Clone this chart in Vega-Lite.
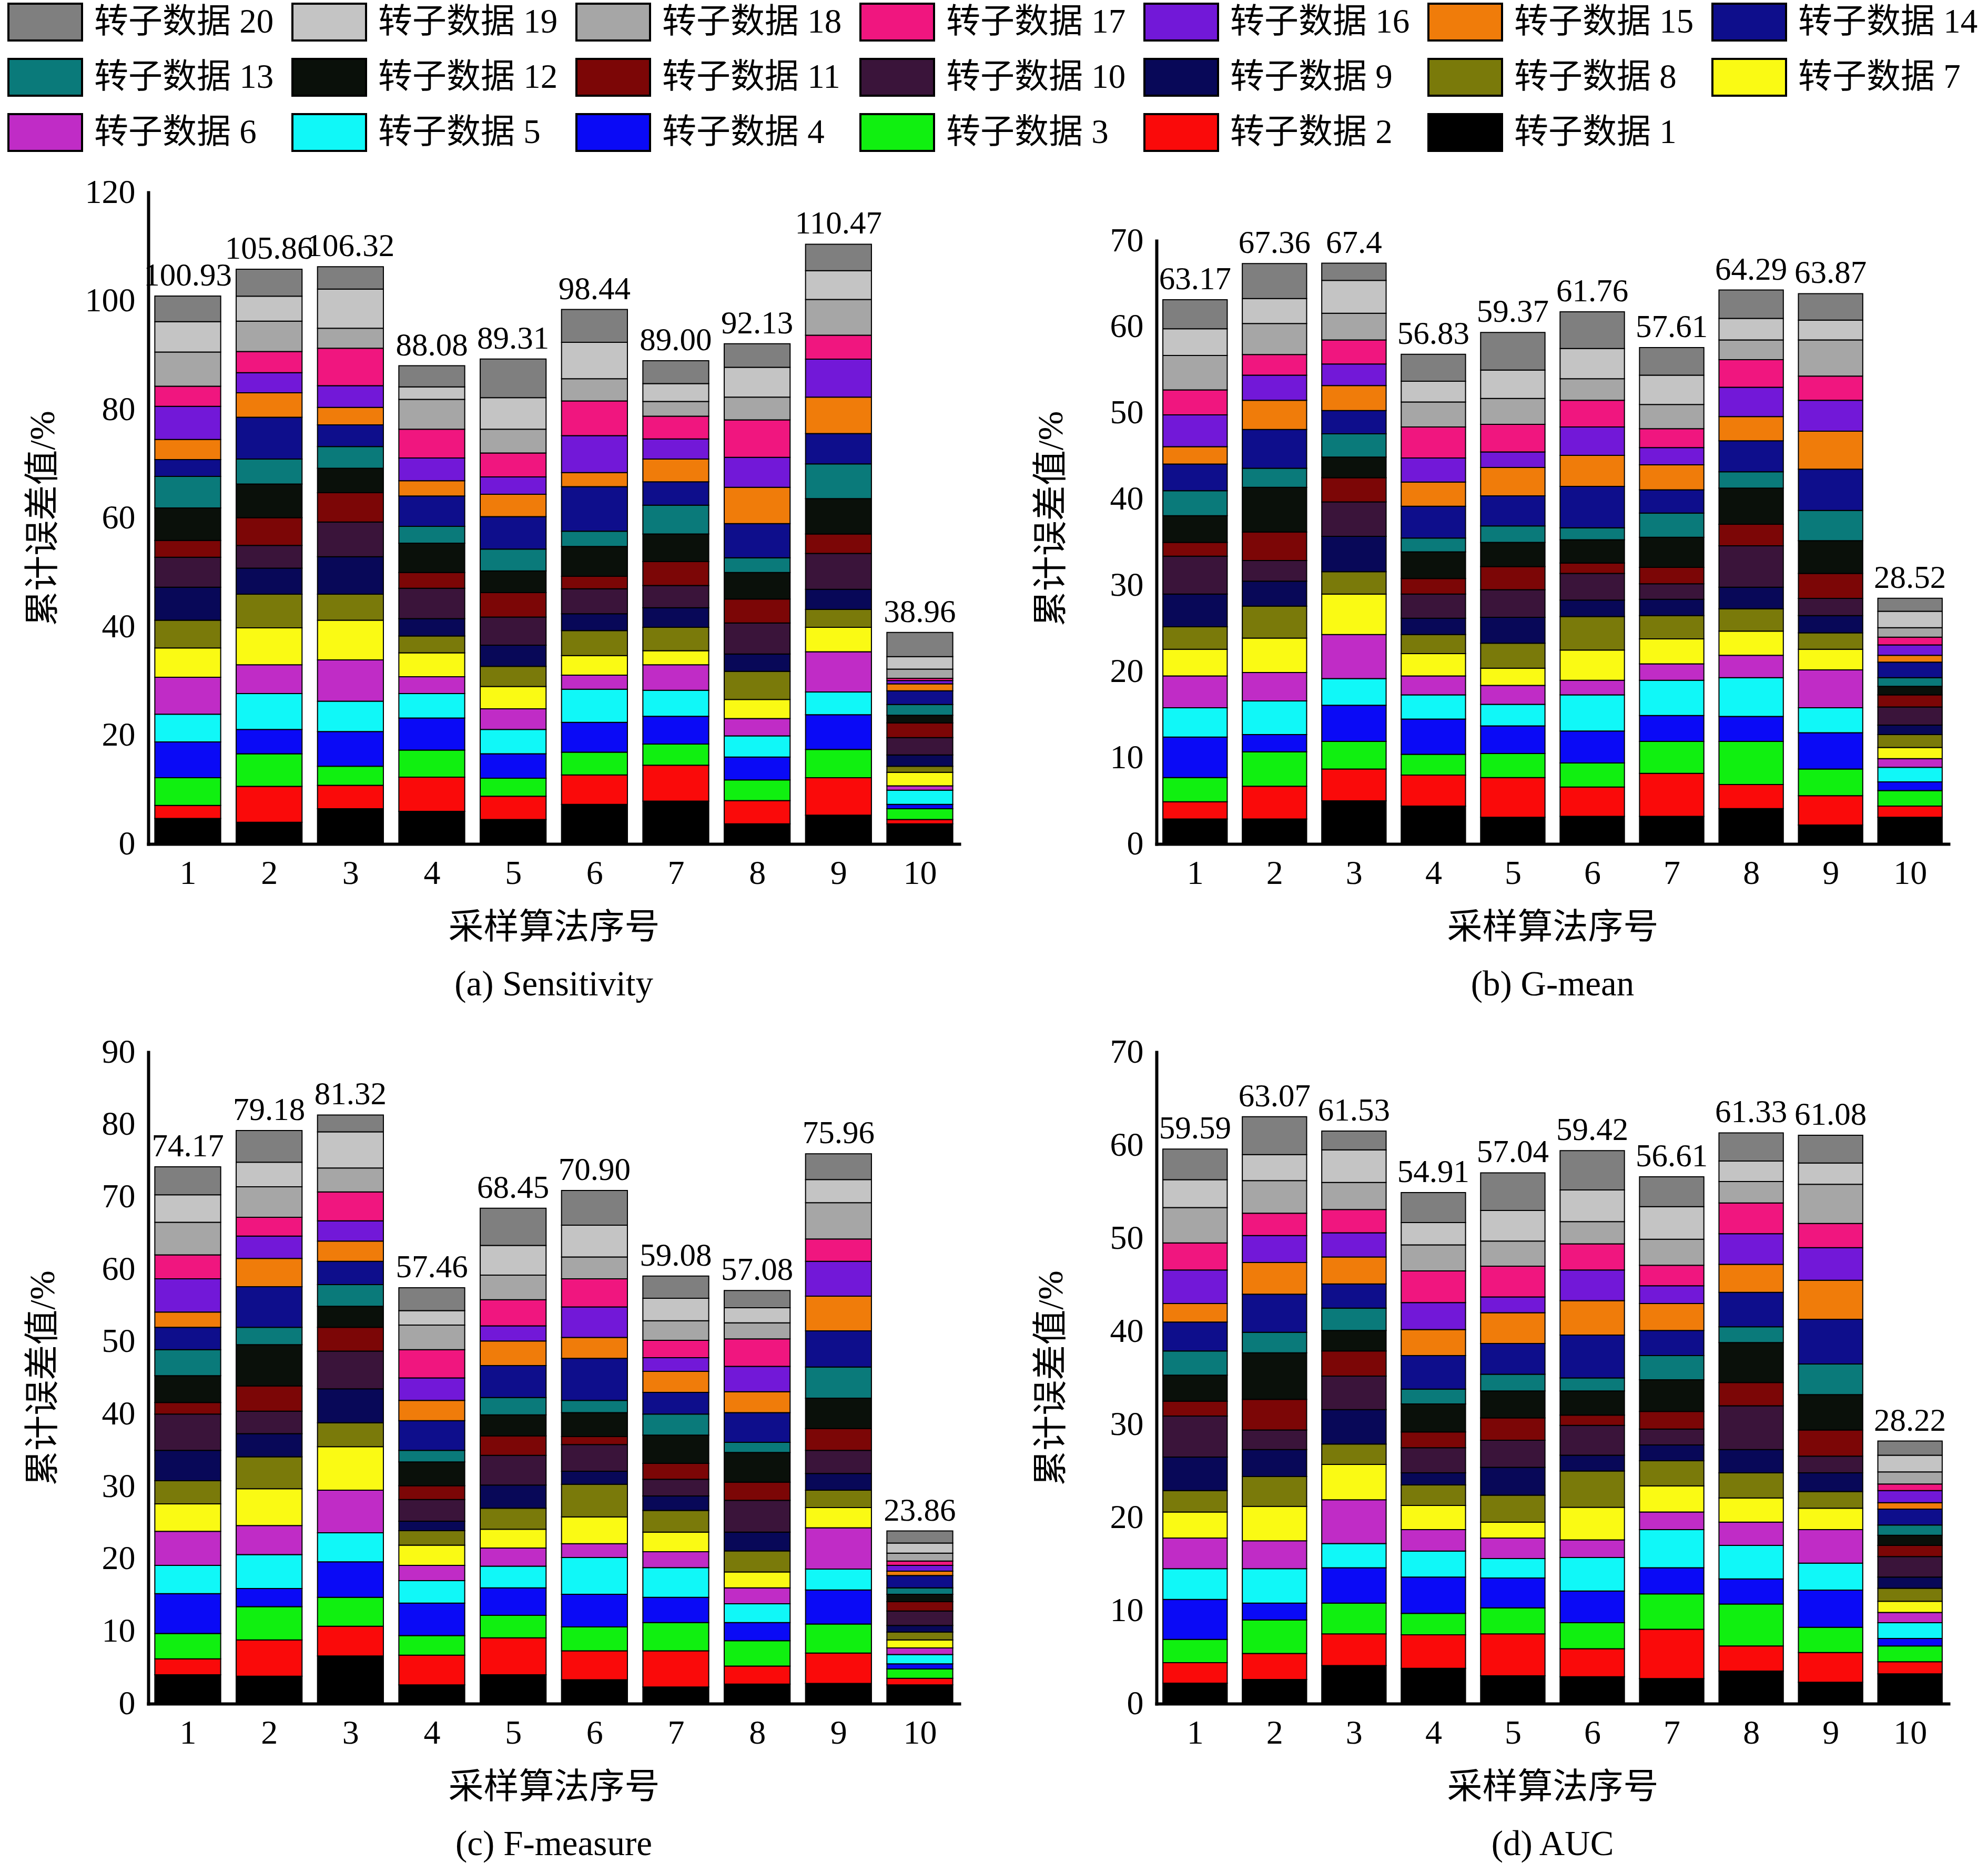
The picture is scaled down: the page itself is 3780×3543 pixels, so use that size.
{
"$schema": "https://vega.github.io/schema/vega-lite/v6.json",
"background": "white",
"padding": {"left": 48, "top": 5, "right": 5, "bottom": 5},
"datasets": {
"a": [
{"g":1,"s":1,"v":4.7},{"g":1,"s":2,"v":2.4},{"g":1,"s":3,"v":5.1},{"g":1,"s":4,"v":6.6},{"g":1,"s":5,"v":5.1},{"g":1,"s":6,"v":6.8},{"g":1,"s":7,"v":5.4},{"g":1,"s":8,"v":5.1},{"g":1,"s":9,"v":6.1},{"g":1,"s":10,"v":5.5},{"g":1,"s":11,"v":3.1},{"g":1,"s":12,"v":6.0},{"g":1,"s":13,"v":5.8},{"g":1,"s":14,"v":3.1},{"g":1,"s":15,"v":3.7},{"g":1,"s":16,"v":6.1},{"g":1,"s":17,"v":3.7},{"g":1,"s":18,"v":6.3},{"g":1,"s":19,"v":5.6},{"g":1,"s":20,"v":4.73},
{"g":2,"s":1,"v":4.0},{"g":2,"s":2,"v":6.6},{"g":2,"s":3,"v":6.0},{"g":2,"s":4,"v":4.5},{"g":2,"s":5,"v":6.6},{"g":2,"s":6,"v":5.3},{"g":2,"s":7,"v":6.8},{"g":2,"s":8,"v":6.2},{"g":2,"s":9,"v":4.8},{"g":2,"s":10,"v":4.2},{"g":2,"s":11,"v":5.1},{"g":2,"s":12,"v":6.2},{"g":2,"s":13,"v":4.6},{"g":2,"s":14,"v":7.7},{"g":2,"s":15,"v":4.5},{"g":2,"s":16,"v":3.7},{"g":2,"s":17,"v":3.9},{"g":2,"s":18,"v":5.6},{"g":2,"s":19,"v":4.6},{"g":2,"s":20,"v":4.96},
{"g":3,"s":1,"v":6.5},{"g":3,"s":2,"v":4.3},{"g":3,"s":3,"v":3.5},{"g":3,"s":4,"v":6.4},{"g":3,"s":5,"v":5.6},{"g":3,"s":6,"v":7.6},{"g":3,"s":7,"v":7.3},{"g":3,"s":8,"v":4.8},{"g":3,"s":9,"v":6.9},{"g":3,"s":10,"v":6.4},{"g":3,"s":11,"v":5.4},{"g":3,"s":12,"v":4.5},{"g":3,"s":13,"v":4.0},{"g":3,"s":14,"v":4.0},{"g":3,"s":15,"v":3.2},{"g":3,"s":16,"v":4.0},{"g":3,"s":17,"v":6.9},{"g":3,"s":18,"v":3.7},{"g":3,"s":19,"v":7.2},{"g":3,"s":20,"v":4.12},
{"g":4,"s":1,"v":6.0},{"g":4,"s":2,"v":6.3},{"g":4,"s":3,"v":5.0},{"g":4,"s":4,"v":5.9},{"g":4,"s":5,"v":4.5},{"g":4,"s":6,"v":3.1},{"g":4,"s":7,"v":4.4},{"g":4,"s":8,"v":3.1},{"g":4,"s":9,"v":3.2},{"g":4,"s":10,"v":5.6},{"g":4,"s":11,"v":2.9},{"g":4,"s":12,"v":5.4},{"g":4,"s":13,"v":3.1},{"g":4,"s":14,"v":5.6},{"g":4,"s":15,"v":2.8},{"g":4,"s":16,"v":4.2},{"g":4,"s":17,"v":5.3},{"g":4,"s":18,"v":5.5},{"g":4,"s":19,"v":2.3},{"g":4,"s":20,"v":3.88},
{"g":5,"s":1,"v":4.5},{"g":5,"s":2,"v":4.3},{"g":5,"s":3,"v":3.3},{"g":5,"s":4,"v":4.5},{"g":5,"s":5,"v":4.5},{"g":5,"s":6,"v":3.8},{"g":5,"s":7,"v":4.1},{"g":5,"s":8,"v":3.7},{"g":5,"s":9,"v":3.9},{"g":5,"s":10,"v":5.2},{"g":5,"s":11,"v":4.5},{"g":5,"s":12,"v":4.0},{"g":5,"s":13,"v":4.0},{"g":5,"s":14,"v":6.0},{"g":5,"s":15,"v":4.1},{"g":5,"s":16,"v":3.2},{"g":5,"s":17,"v":4.4},{"g":5,"s":18,"v":4.4},{"g":5,"s":19,"v":5.8},{"g":5,"s":20,"v":7.11},
{"g":6,"s":1,"v":7.3},{"g":6,"s":2,"v":5.4},{"g":6,"s":3,"v":4.2},{"g":6,"s":4,"v":5.5},{"g":6,"s":5,"v":6.1},{"g":6,"s":6,"v":2.6},{"g":6,"s":7,"v":3.6},{"g":6,"s":8,"v":4.6},{"g":6,"s":9,"v":3.1},{"g":6,"s":10,"v":4.6},{"g":6,"s":11,"v":2.3},{"g":6,"s":12,"v":5.5},{"g":6,"s":13,"v":2.8},{"g":6,"s":14,"v":8.2},{"g":6,"s":15,"v":2.6},{"g":6,"s":16,"v":6.8},{"g":6,"s":17,"v":6.4},{"g":6,"s":18,"v":4.1},{"g":6,"s":19,"v":6.7},{"g":6,"s":20,"v":6.04},
{"g":7,"s":1,"v":7.9},{"g":7,"s":2,"v":6.6},{"g":7,"s":3,"v":3.9},{"g":7,"s":4,"v":5.1},{"g":7,"s":5,"v":4.8},{"g":7,"s":6,"v":4.7},{"g":7,"s":7,"v":2.6},{"g":7,"s":8,"v":4.3},{"g":7,"s":9,"v":3.6},{"g":7,"s":10,"v":4.1},{"g":7,"s":11,"v":4.4},{"g":7,"s":12,"v":5.1},{"g":7,"s":13,"v":5.3},{"g":7,"s":14,"v":4.3},{"g":7,"s":15,"v":4.2},{"g":7,"s":16,"v":3.7},{"g":7,"s":17,"v":4.2},{"g":7,"s":18,"v":2.7},{"g":7,"s":19,"v":3.3},{"g":7,"s":20,"v":4.2},
{"g":8,"s":1,"v":3.7},{"g":8,"s":2,"v":4.3},{"g":8,"s":3,"v":3.8},{"g":8,"s":4,"v":4.2},{"g":8,"s":5,"v":3.9},{"g":8,"s":6,"v":3.2},{"g":8,"s":7,"v":3.5},{"g":8,"s":8,"v":5.2},{"g":8,"s":9,"v":3.2},{"g":8,"s":10,"v":5.7},{"g":8,"s":11,"v":4.4},{"g":8,"s":12,"v":4.9},{"g":8,"s":13,"v":2.7},{"g":8,"s":14,"v":6.3},{"g":8,"s":15,"v":6.7},{"g":8,"s":16,"v":5.5},{"g":8,"s":17,"v":6.9},{"g":8,"s":18,"v":4.2},{"g":8,"s":19,"v":5.5},{"g":8,"s":20,"v":4.33},
{"g":9,"s":1,"v":5.3},{"g":9,"s":2,"v":6.9},{"g":9,"s":3,"v":5.2},{"g":9,"s":4,"v":6.4},{"g":9,"s":5,"v":4.2},{"g":9,"s":6,"v":7.4},{"g":9,"s":7,"v":4.5},{"g":9,"s":8,"v":3.3},{"g":9,"s":9,"v":3.7},{"g":9,"s":10,"v":6.6},{"g":9,"s":11,"v":3.6},{"g":9,"s":12,"v":6.5},{"g":9,"s":13,"v":6.4},{"g":9,"s":14,"v":5.6},{"g":9,"s":15,"v":6.7},{"g":9,"s":16,"v":7.0},{"g":9,"s":17,"v":4.4},{"g":9,"s":18,"v":6.6},{"g":9,"s":19,"v":5.3},{"g":9,"s":20,"v":4.87},
{"g":10,"s":1,"v":3.7},{"g":10,"s":2,"v":0.8},{"g":10,"s":3,"v":2.0},{"g":10,"s":4,"v":0.8},{"g":10,"s":5,"v":2.6},{"g":10,"s":6,"v":0.8},{"g":10,"s":7,"v":2.5},{"g":10,"s":8,"v":1.1},{"g":10,"s":9,"v":2.1},{"g":10,"s":10,"v":3.2},{"g":10,"s":11,"v":2.7},{"g":10,"s":12,"v":1.4},{"g":10,"s":13,"v":2.0},{"g":10,"s":14,"v":2.5},{"g":10,"s":15,"v":1.3},{"g":10,"s":16,"v":0.6},{"g":10,"s":17,"v":0.4},{"g":10,"s":18,"v":1.7},{"g":10,"s":19,"v":2.3},{"g":10,"s":20,"v":4.46}
],
"b": [
{"g":1,"s":1,"v":2.9},{"g":1,"s":2,"v":2.0},{"g":1,"s":3,"v":2.8},{"g":1,"s":4,"v":4.7},{"g":1,"s":5,"v":3.4},{"g":1,"s":6,"v":3.7},{"g":1,"s":7,"v":3.1},{"g":1,"s":8,"v":2.6},{"g":1,"s":9,"v":3.8},{"g":1,"s":10,"v":4.4},{"g":1,"s":11,"v":1.6},{"g":1,"s":12,"v":3.1},{"g":1,"s":13,"v":2.9},{"g":1,"s":14,"v":3.1},{"g":1,"s":15,"v":2.0},{"g":1,"s":16,"v":3.7},{"g":1,"s":17,"v":2.9},{"g":1,"s":18,"v":4.0},{"g":1,"s":19,"v":3.1},{"g":1,"s":20,"v":3.37},
{"g":2,"s":1,"v":2.9},{"g":2,"s":2,"v":3.8},{"g":2,"s":3,"v":4.0},{"g":2,"s":4,"v":2.0},{"g":2,"s":5,"v":3.9},{"g":2,"s":6,"v":3.3},{"g":2,"s":7,"v":4.0},{"g":2,"s":8,"v":3.7},{"g":2,"s":9,"v":2.9},{"g":2,"s":10,"v":2.4},{"g":2,"s":11,"v":3.3},{"g":2,"s":12,"v":5.2},{"g":2,"s":13,"v":2.2},{"g":2,"s":14,"v":4.5},{"g":2,"s":15,"v":3.4},{"g":2,"s":16,"v":2.9},{"g":2,"s":17,"v":2.4},{"g":2,"s":18,"v":3.6},{"g":2,"s":19,"v":2.9},{"g":2,"s":20,"v":4.06},
{"g":3,"s":1,"v":5.0},{"g":3,"s":2,"v":3.7},{"g":3,"s":3,"v":3.2},{"g":3,"s":4,"v":4.2},{"g":3,"s":5,"v":3.1},{"g":3,"s":6,"v":5.1},{"g":3,"s":7,"v":4.7},{"g":3,"s":8,"v":2.6},{"g":3,"s":9,"v":4.1},{"g":3,"s":10,"v":4.0},{"g":3,"s":11,"v":2.8},{"g":3,"s":12,"v":2.4},{"g":3,"s":13,"v":2.7},{"g":3,"s":14,"v":2.7},{"g":3,"s":15,"v":2.9},{"g":3,"s":16,"v":2.5},{"g":3,"s":17,"v":2.8},{"g":3,"s":18,"v":3.1},{"g":3,"s":19,"v":3.8},{"g":3,"s":20,"v":2.0},
{"g":4,"s":1,"v":4.4},{"g":4,"s":2,"v":3.6},{"g":4,"s":3,"v":2.4},{"g":4,"s":4,"v":4.1},{"g":4,"s":5,"v":2.8},{"g":4,"s":6,"v":2.2},{"g":4,"s":7,"v":2.6},{"g":4,"s":8,"v":2.2},{"g":4,"s":9,"v":1.9},{"g":4,"s":10,"v":2.8},{"g":4,"s":11,"v":1.8},{"g":4,"s":12,"v":3.1},{"g":4,"s":13,"v":1.6},{"g":4,"s":14,"v":3.7},{"g":4,"s":15,"v":2.8},{"g":4,"s":16,"v":2.8},{"g":4,"s":17,"v":3.6},{"g":4,"s":18,"v":2.9},{"g":4,"s":19,"v":2.4},{"g":4,"s":20,"v":3.13},
{"g":5,"s":1,"v":3.1},{"g":5,"s":2,"v":4.6},{"g":5,"s":3,"v":2.8},{"g":5,"s":4,"v":3.2},{"g":5,"s":5,"v":2.5},{"g":5,"s":6,"v":2.2},{"g":5,"s":7,"v":2.0},{"g":5,"s":8,"v":2.9},{"g":5,"s":9,"v":3.0},{"g":5,"s":10,"v":3.2},{"g":5,"s":11,"v":2.7},{"g":5,"s":12,"v":2.8},{"g":5,"s":13,"v":1.9},{"g":5,"s":14,"v":3.5},{"g":5,"s":15,"v":3.3},{"g":5,"s":16,"v":1.8},{"g":5,"s":17,"v":3.2},{"g":5,"s":18,"v":3.0},{"g":5,"s":19,"v":3.3},{"g":5,"s":20,"v":4.37},
{"g":6,"s":1,"v":3.2},{"g":6,"s":2,"v":3.4},{"g":6,"s":3,"v":2.8},{"g":6,"s":4,"v":3.7},{"g":6,"s":5,"v":4.2},{"g":6,"s":6,"v":1.7},{"g":6,"s":7,"v":3.5},{"g":6,"s":8,"v":3.9},{"g":6,"s":9,"v":1.9},{"g":6,"s":10,"v":3.1},{"g":6,"s":11,"v":1.2},{"g":6,"s":12,"v":2.7},{"g":6,"s":13,"v":1.4},{"g":6,"s":14,"v":4.8},{"g":6,"s":15,"v":3.6},{"g":6,"s":16,"v":3.3},{"g":6,"s":17,"v":3.1},{"g":6,"s":18,"v":2.5},{"g":6,"s":19,"v":3.5},{"g":6,"s":20,"v":4.26},
{"g":7,"s":1,"v":3.2},{"g":7,"s":2,"v":5.0},{"g":7,"s":3,"v":3.7},{"g":7,"s":4,"v":3.0},{"g":7,"s":5,"v":4.1},{"g":7,"s":6,"v":1.9},{"g":7,"s":7,"v":2.9},{"g":7,"s":8,"v":2.7},{"g":7,"s":9,"v":1.9},{"g":7,"s":10,"v":1.8},{"g":7,"s":11,"v":1.9},{"g":7,"s":12,"v":3.5},{"g":7,"s":13,"v":2.8},{"g":7,"s":14,"v":2.7},{"g":7,"s":15,"v":2.9},{"g":7,"s":16,"v":2.0},{"g":7,"s":17,"v":2.2},{"g":7,"s":18,"v":2.8},{"g":7,"s":19,"v":3.4},{"g":7,"s":20,"v":3.21},
{"g":8,"s":1,"v":4.1},{"g":8,"s":2,"v":2.8},{"g":8,"s":3,"v":5.0},{"g":8,"s":4,"v":2.9},{"g":8,"s":5,"v":4.5},{"g":8,"s":6,"v":2.6},{"g":8,"s":7,"v":2.8},{"g":8,"s":8,"v":2.6},{"g":8,"s":9,"v":2.5},{"g":8,"s":10,"v":4.8},{"g":8,"s":11,"v":2.5},{"g":8,"s":12,"v":4.2},{"g":8,"s":13,"v":1.9},{"g":8,"s":14,"v":3.6},{"g":8,"s":15,"v":2.8},{"g":8,"s":16,"v":3.4},{"g":8,"s":17,"v":3.2},{"g":8,"s":18,"v":2.3},{"g":8,"s":19,"v":2.5},{"g":8,"s":20,"v":3.29},
{"g":9,"s":1,"v":2.2},{"g":9,"s":2,"v":3.4},{"g":9,"s":3,"v":3.1},{"g":9,"s":4,"v":4.2},{"g":9,"s":5,"v":2.9},{"g":9,"s":6,"v":4.4},{"g":9,"s":7,"v":2.4},{"g":9,"s":8,"v":1.9},{"g":9,"s":9,"v":2.0},{"g":9,"s":10,"v":2.0},{"g":9,"s":11,"v":2.9},{"g":9,"s":12,"v":3.8},{"g":9,"s":13,"v":3.5},{"g":9,"s":14,"v":4.8},{"g":9,"s":15,"v":4.4},{"g":9,"s":16,"v":3.6},{"g":9,"s":17,"v":2.8},{"g":9,"s":18,"v":4.2},{"g":9,"s":19,"v":2.3},{"g":9,"s":20,"v":3.07},
{"g":10,"s":1,"v":3.1},{"g":10,"s":2,"v":1.3},{"g":10,"s":3,"v":1.8},{"g":10,"s":4,"v":1.0},{"g":10,"s":5,"v":1.7},{"g":10,"s":6,"v":1.0},{"g":10,"s":7,"v":1.3},{"g":10,"s":8,"v":1.5},{"g":10,"s":9,"v":1.1},{"g":10,"s":10,"v":2.1},{"g":10,"s":11,"v":1.4},{"g":10,"s":12,"v":1.0},{"g":10,"s":13,"v":1.0},{"g":10,"s":14,"v":1.8},{"g":10,"s":15,"v":0.8},{"g":10,"s":16,"v":1.2},{"g":10,"s":17,"v":0.9},{"g":10,"s":18,"v":1.1},{"g":10,"s":19,"v":1.9},{"g":10,"s":20,"v":1.52}
],
"c": [
{"g":1,"s":1,"v":4.0},{"g":1,"s":2,"v":2.2},{"g":1,"s":3,"v":3.5},{"g":1,"s":4,"v":5.5},{"g":1,"s":5,"v":3.9},{"g":1,"s":6,"v":4.7},{"g":1,"s":7,"v":3.8},{"g":1,"s":8,"v":3.2},{"g":1,"s":9,"v":4.2},{"g":1,"s":10,"v":5.0},{"g":1,"s":11,"v":1.6},{"g":1,"s":12,"v":3.7},{"g":1,"s":13,"v":3.6},{"g":1,"s":14,"v":3.1},{"g":1,"s":15,"v":2.1},{"g":1,"s":16,"v":4.6},{"g":1,"s":17,"v":3.3},{"g":1,"s":18,"v":4.5},{"g":1,"s":19,"v":3.8},{"g":1,"s":20,"v":3.87},
{"g":2,"s":1,"v":3.8},{"g":2,"s":2,"v":5.0},{"g":2,"s":3,"v":4.6},{"g":2,"s":4,"v":2.5},{"g":2,"s":5,"v":4.7},{"g":2,"s":6,"v":4.0},{"g":2,"s":7,"v":5.1},{"g":2,"s":8,"v":4.4},{"g":2,"s":9,"v":3.2},{"g":2,"s":10,"v":3.1},{"g":2,"s":11,"v":3.5},{"g":2,"s":12,"v":5.7},{"g":2,"s":13,"v":2.4},{"g":2,"s":14,"v":5.6},{"g":2,"s":15,"v":3.9},{"g":2,"s":16,"v":3.1},{"g":2,"s":17,"v":2.6},{"g":2,"s":18,"v":4.2},{"g":2,"s":19,"v":3.4},{"g":2,"s":20,"v":4.38},
{"g":3,"s":1,"v":6.6},{"g":3,"s":2,"v":4.1},{"g":3,"s":3,"v":4.0},{"g":3,"s":4,"v":4.9},{"g":3,"s":5,"v":4.0},{"g":3,"s":6,"v":5.9},{"g":3,"s":7,"v":6.0},{"g":3,"s":8,"v":3.3},{"g":3,"s":9,"v":4.7},{"g":3,"s":10,"v":5.2},{"g":3,"s":11,"v":3.3},{"g":3,"s":12,"v":2.9},{"g":3,"s":13,"v":3.0},{"g":3,"s":14,"v":3.2},{"g":3,"s":15,"v":2.8},{"g":3,"s":16,"v":2.8},{"g":3,"s":17,"v":4.0},{"g":3,"s":18,"v":3.3},{"g":3,"s":19,"v":5.0},{"g":3,"s":20,"v":2.32},
{"g":4,"s":1,"v":2.6},{"g":4,"s":2,"v":4.1},{"g":4,"s":3,"v":2.7},{"g":4,"s":4,"v":4.5},{"g":4,"s":5,"v":3.1},{"g":4,"s":6,"v":2.1},{"g":4,"s":7,"v":2.8},{"g":4,"s":8,"v":2.0},{"g":4,"s":9,"v":1.3},{"g":4,"s":10,"v":3.0},{"g":4,"s":11,"v":1.9},{"g":4,"s":12,"v":3.3},{"g":4,"s":13,"v":1.6},{"g":4,"s":14,"v":4.1},{"g":4,"s":15,"v":2.8},{"g":4,"s":16,"v":3.1},{"g":4,"s":17,"v":3.9},{"g":4,"s":18,"v":3.4},{"g":4,"s":19,"v":2.0},{"g":4,"s":20,"v":3.16},
{"g":5,"s":1,"v":4.0},{"g":5,"s":2,"v":5.1},{"g":5,"s":3,"v":3.1},{"g":5,"s":4,"v":3.8},{"g":5,"s":5,"v":3.0},{"g":5,"s":6,"v":2.5},{"g":5,"s":7,"v":2.6},{"g":5,"s":8,"v":2.9},{"g":5,"s":9,"v":3.2},{"g":5,"s":10,"v":4.1},{"g":5,"s":11,"v":2.7},{"g":5,"s":12,"v":2.9},{"g":5,"s":13,"v":2.4},{"g":5,"s":14,"v":4.4},{"g":5,"s":15,"v":3.4},{"g":5,"s":16,"v":2.1},{"g":5,"s":17,"v":3.6},{"g":5,"s":18,"v":3.4},{"g":5,"s":19,"v":4.1},{"g":5,"s":20,"v":5.15},
{"g":6,"s":1,"v":3.3},{"g":6,"s":2,"v":4.0},{"g":6,"s":3,"v":3.3},{"g":6,"s":4,"v":4.5},{"g":6,"s":5,"v":5.1},{"g":6,"s":6,"v":1.9},{"g":6,"s":7,"v":3.7},{"g":6,"s":8,"v":4.5},{"g":6,"s":9,"v":1.8},{"g":6,"s":10,"v":3.7},{"g":6,"s":11,"v":1.1},{"g":6,"s":12,"v":3.3},{"g":6,"s":13,"v":1.7},{"g":6,"s":14,"v":5.8},{"g":6,"s":15,"v":2.9},{"g":6,"s":16,"v":4.2},{"g":6,"s":17,"v":3.9},{"g":6,"s":18,"v":3.0},{"g":6,"s":19,"v":4.4},{"g":6,"s":20,"v":4.8},
{"g":7,"s":1,"v":2.3},{"g":7,"s":2,"v":5.0},{"g":7,"s":3,"v":3.9},{"g":7,"s":4,"v":3.5},{"g":7,"s":5,"v":4.1},{"g":7,"s":6,"v":2.2},{"g":7,"s":7,"v":2.7},{"g":7,"s":8,"v":3.0},{"g":7,"s":9,"v":2.0},{"g":7,"s":10,"v":2.3},{"g":7,"s":11,"v":2.2},{"g":7,"s":12,"v":3.9},{"g":7,"s":13,"v":2.9},{"g":7,"s":14,"v":3.0},{"g":7,"s":15,"v":2.9},{"g":7,"s":16,"v":1.9},{"g":7,"s":17,"v":2.4},{"g":7,"s":18,"v":2.7},{"g":7,"s":19,"v":3.1},{"g":7,"s":20,"v":3.08},
{"g":8,"s":1,"v":2.7},{"g":8,"s":2,"v":2.5},{"g":8,"s":3,"v":3.5},{"g":8,"s":4,"v":2.5},{"g":8,"s":5,"v":2.6},{"g":8,"s":6,"v":2.2},{"g":8,"s":7,"v":2.2},{"g":8,"s":8,"v":2.9},{"g":8,"s":9,"v":2.6},{"g":8,"s":10,"v":4.4},{"g":8,"s":11,"v":2.5},{"g":8,"s":12,"v":4.1},{"g":8,"s":13,"v":1.4},{"g":8,"s":14,"v":4.1},{"g":8,"s":15,"v":2.9},{"g":8,"s":16,"v":3.5},{"g":8,"s":17,"v":3.8},{"g":8,"s":18,"v":2.2},{"g":8,"s":19,"v":2.1},{"g":8,"s":20,"v":2.38},
{"g":9,"s":1,"v":2.8},{"g":9,"s":2,"v":4.2},{"g":9,"s":3,"v":4.0},{"g":9,"s":4,"v":4.7},{"g":9,"s":5,"v":2.9},{"g":9,"s":6,"v":5.7},{"g":9,"s":7,"v":2.8},{"g":9,"s":8,"v":2.4},{"g":9,"s":9,"v":2.3},{"g":9,"s":10,"v":3.2},{"g":9,"s":11,"v":3.0},{"g":9,"s":12,"v":4.2},{"g":9,"s":13,"v":4.3},{"g":9,"s":14,"v":5.0},{"g":9,"s":15,"v":4.8},{"g":9,"s":16,"v":4.8},{"g":9,"s":17,"v":3.1},{"g":9,"s":18,"v":5.0},{"g":9,"s":19,"v":3.2},{"g":9,"s":20,"v":3.56},
{"g":10,"s":1,"v":2.6},{"g":10,"s":2,"v":0.9},{"g":10,"s":3,"v":1.3},{"g":10,"s":4,"v":0.7},{"g":10,"s":5,"v":1.3},{"g":10,"s":6,"v":0.9},{"g":10,"s":7,"v":1.1},{"g":10,"s":8,"v":1.1},{"g":10,"s":9,"v":0.9},{"g":10,"s":10,"v":2.0},{"g":10,"s":11,"v":1.3},{"g":10,"s":12,"v":1.0},{"g":10,"s":13,"v":0.9},{"g":10,"s":14,"v":1.7},{"g":10,"s":15,"v":0.6},{"g":10,"s":16,"v":0.8},{"g":10,"s":17,"v":0.6},{"g":10,"s":18,"v":1.1},{"g":10,"s":19,"v":1.4},{"g":10,"s":20,"v":1.66}
],
"d": [
{"g":1,"s":1,"v":2.2},{"g":1,"s":2,"v":2.2},{"g":1,"s":3,"v":2.5},{"g":1,"s":4,"v":4.3},{"g":1,"s":5,"v":3.3},{"g":1,"s":6,"v":3.3},{"g":1,"s":7,"v":2.8},{"g":1,"s":8,"v":2.3},{"g":1,"s":9,"v":3.6},{"g":1,"s":10,"v":4.4},{"g":1,"s":11,"v":1.6},{"g":1,"s":12,"v":2.8},{"g":1,"s":13,"v":2.6},{"g":1,"s":14,"v":3.1},{"g":1,"s":15,"v":2.0},{"g":1,"s":16,"v":3.6},{"g":1,"s":17,"v":2.9},{"g":1,"s":18,"v":3.8},{"g":1,"s":19,"v":3.0},{"g":1,"s":20,"v":3.29},
{"g":2,"s":1,"v":2.6},{"g":2,"s":2,"v":2.8},{"g":2,"s":3,"v":3.6},{"g":2,"s":4,"v":1.8},{"g":2,"s":5,"v":3.7},{"g":2,"s":6,"v":3.0},{"g":2,"s":7,"v":3.7},{"g":2,"s":8,"v":3.2},{"g":2,"s":9,"v":2.9},{"g":2,"s":10,"v":2.1},{"g":2,"s":11,"v":3.3},{"g":2,"s":12,"v":5.0},{"g":2,"s":13,"v":2.2},{"g":2,"s":14,"v":4.1},{"g":2,"s":15,"v":3.4},{"g":2,"s":16,"v":2.9},{"g":2,"s":17,"v":2.4},{"g":2,"s":18,"v":3.5},{"g":2,"s":19,"v":2.8},{"g":2,"s":20,"v":4.07},
{"g":3,"s":1,"v":4.1},{"g":3,"s":2,"v":3.4},{"g":3,"s":3,"v":3.3},{"g":3,"s":4,"v":3.8},{"g":3,"s":5,"v":2.6},{"g":3,"s":6,"v":4.7},{"g":3,"s":7,"v":3.8},{"g":3,"s":8,"v":2.2},{"g":3,"s":9,"v":3.7},{"g":3,"s":10,"v":3.6},{"g":3,"s":11,"v":2.7},{"g":3,"s":12,"v":2.2},{"g":3,"s":13,"v":2.4},{"g":3,"s":14,"v":2.6},{"g":3,"s":15,"v":2.9},{"g":3,"s":16,"v":2.6},{"g":3,"s":17,"v":2.5},{"g":3,"s":18,"v":2.9},{"g":3,"s":19,"v":3.5},{"g":3,"s":20,"v":2.03},
{"g":4,"s":1,"v":3.8},{"g":4,"s":2,"v":3.6},{"g":4,"s":3,"v":2.3},{"g":4,"s":4,"v":3.9},{"g":4,"s":5,"v":2.8},{"g":4,"s":6,"v":2.3},{"g":4,"s":7,"v":2.6},{"g":4,"s":8,"v":2.2},{"g":4,"s":9,"v":1.3},{"g":4,"s":10,"v":2.7},{"g":4,"s":11,"v":1.7},{"g":4,"s":12,"v":3.0},{"g":4,"s":13,"v":1.6},{"g":4,"s":14,"v":3.6},{"g":4,"s":15,"v":2.8},{"g":4,"s":16,"v":2.9},{"g":4,"s":17,"v":3.4},{"g":4,"s":18,"v":2.8},{"g":4,"s":19,"v":2.4},{"g":4,"s":20,"v":3.21},
{"g":5,"s":1,"v":3.0},{"g":5,"s":2,"v":4.5},{"g":5,"s":3,"v":2.8},{"g":5,"s":4,"v":3.2},{"g":5,"s":5,"v":2.1},{"g":5,"s":6,"v":2.2},{"g":5,"s":7,"v":1.7},{"g":5,"s":8,"v":2.9},{"g":5,"s":9,"v":3.0},{"g":5,"s":10,"v":2.9},{"g":5,"s":11,"v":2.4},{"g":5,"s":12,"v":2.9},{"g":5,"s":13,"v":1.8},{"g":5,"s":14,"v":3.3},{"g":5,"s":15,"v":3.3},{"g":5,"s":16,"v":1.7},{"g":5,"s":17,"v":3.3},{"g":5,"s":18,"v":2.7},{"g":5,"s":19,"v":3.3},{"g":5,"s":20,"v":4.04},
{"g":6,"s":1,"v":2.9},{"g":6,"s":2,"v":3.0},{"g":6,"s":3,"v":2.8},{"g":6,"s":4,"v":3.4},{"g":6,"s":5,"v":3.6},{"g":6,"s":6,"v":1.9},{"g":6,"s":7,"v":3.5},{"g":6,"s":8,"v":3.9},{"g":6,"s":9,"v":1.7},{"g":6,"s":10,"v":3.2},{"g":6,"s":11,"v":1.1},{"g":6,"s":12,"v":2.6},{"g":6,"s":13,"v":1.4},{"g":6,"s":14,"v":4.6},{"g":6,"s":15,"v":3.7},{"g":6,"s":16,"v":3.3},{"g":6,"s":17,"v":2.8},{"g":6,"s":18,"v":2.4},{"g":6,"s":19,"v":3.4},{"g":6,"s":20,"v":4.22},
{"g":7,"s":1,"v":2.7},{"g":7,"s":2,"v":5.3},{"g":7,"s":3,"v":3.8},{"g":7,"s":4,"v":2.8},{"g":7,"s":5,"v":4.1},{"g":7,"s":6,"v":1.9},{"g":7,"s":7,"v":2.8},{"g":7,"s":8,"v":2.7},{"g":7,"s":9,"v":1.7},{"g":7,"s":10,"v":1.7},{"g":7,"s":11,"v":1.9},{"g":7,"s":12,"v":3.4},{"g":7,"s":13,"v":2.6},{"g":7,"s":14,"v":2.7},{"g":7,"s":15,"v":2.9},{"g":7,"s":16,"v":1.9},{"g":7,"s":17,"v":2.2},{"g":7,"s":18,"v":2.8},{"g":7,"s":19,"v":3.5},{"g":7,"s":20,"v":3.21},
{"g":8,"s":1,"v":3.5},{"g":8,"s":2,"v":2.7},{"g":8,"s":3,"v":4.5},{"g":8,"s":4,"v":2.7},{"g":8,"s":5,"v":3.6},{"g":8,"s":6,"v":2.5},{"g":8,"s":7,"v":2.6},{"g":8,"s":8,"v":2.7},{"g":8,"s":9,"v":2.5},{"g":8,"s":10,"v":4.7},{"g":8,"s":11,"v":2.5},{"g":8,"s":12,"v":4.3},{"g":8,"s":13,"v":1.7},{"g":8,"s":14,"v":3.7},{"g":8,"s":15,"v":3.0},{"g":8,"s":16,"v":3.3},{"g":8,"s":17,"v":3.3},{"g":8,"s":18,"v":2.3},{"g":8,"s":19,"v":2.2},{"g":8,"s":20,"v":3.03},
{"g":9,"s":1,"v":2.3},{"g":9,"s":2,"v":3.2},{"g":9,"s":3,"v":2.7},{"g":9,"s":4,"v":4.0},{"g":9,"s":5,"v":2.9},{"g":9,"s":6,"v":3.6},{"g":9,"s":7,"v":2.3},{"g":9,"s":8,"v":1.8},{"g":9,"s":9,"v":2.0},{"g":9,"s":10,"v":1.8},{"g":9,"s":11,"v":2.8},{"g":9,"s":12,"v":3.8},{"g":9,"s":13,"v":3.3},{"g":9,"s":14,"v":4.8},{"g":9,"s":15,"v":4.2},{"g":9,"s":16,"v":3.5},{"g":9,"s":17,"v":2.6},{"g":9,"s":18,"v":4.2},{"g":9,"s":19,"v":2.3},{"g":9,"s":20,"v":2.98},
{"g":10,"s":1,"v":3.2},{"g":10,"s":2,"v":1.3},{"g":10,"s":3,"v":1.7},{"g":10,"s":4,"v":0.8},{"g":10,"s":5,"v":1.7},{"g":10,"s":6,"v":1.1},{"g":10,"s":7,"v":1.2},{"g":10,"s":8,"v":1.4},{"g":10,"s":9,"v":1.2},{"g":10,"s":10,"v":2.2},{"g":10,"s":11,"v":1.2},{"g":10,"s":12,"v":1.1},{"g":10,"s":13,"v":1.1},{"g":10,"s":14,"v":1.7},{"g":10,"s":15,"v":0.7},{"g":10,"s":16,"v":1.3},{"g":10,"s":17,"v":0.7},{"g":10,"s":18,"v":1.3},{"g":10,"s":19,"v":1.8},{"g":10,"s":20,"v":1.52}
],
"ta": [{"g":1,"t":100.93,"lab":"100.93"},{"g":2,"t":105.86,"lab":"105.86"},{"g":3,"t":106.32,"lab":"106.32"},{"g":4,"t":88.08,"lab":"88.08"},{"g":5,"t":89.31,"lab":"89.31"},{"g":6,"t":98.44,"lab":"98.44"},{"g":7,"t":89.00,"lab":"89.00"},{"g":8,"t":92.13,"lab":"92.13"},{"g":9,"t":110.47,"lab":"110.47"},{"g":10,"t":38.96,"lab":"38.96"}],
"tb": [{"g":1,"t":63.17,"lab":"63.17"},{"g":2,"t":67.36,"lab":"67.36"},{"g":3,"t":67.4,"lab":"67.4"},{"g":4,"t":56.83,"lab":"56.83"},{"g":5,"t":59.37,"lab":"59.37"},{"g":6,"t":61.76,"lab":"61.76"},{"g":7,"t":57.61,"lab":"57.61"},{"g":8,"t":64.29,"lab":"64.29"},{"g":9,"t":63.87,"lab":"63.87"},{"g":10,"t":28.52,"lab":"28.52"}],
"tc": [{"g":1,"t":74.17,"lab":"74.17"},{"g":2,"t":79.18,"lab":"79.18"},{"g":3,"t":81.32,"lab":"81.32"},{"g":4,"t":57.46,"lab":"57.46"},{"g":5,"t":68.45,"lab":"68.45"},{"g":6,"t":70.90,"lab":"70.90"},{"g":7,"t":59.08,"lab":"59.08"},{"g":8,"t":57.08,"lab":"57.08"},{"g":9,"t":75.96,"lab":"75.96"},{"g":10,"t":23.86,"lab":"23.86"}],
"td": [{"g":1,"t":59.59,"lab":"59.59"},{"g":2,"t":63.07,"lab":"63.07"},{"g":3,"t":61.53,"lab":"61.53"},{"g":4,"t":54.91,"lab":"54.91"},{"g":5,"t":57.04,"lab":"57.04"},{"g":6,"t":59.42,"lab":"59.42"},{"g":7,"t":56.61,"lab":"56.61"},{"g":8,"t":61.33,"lab":"61.33"},{"g":9,"t":61.08,"lab":"61.08"},{"g":10,"t":28.22,"lab":"28.22"}]
},
"columns": 2,
"spacing": {"row": 63, "column": 141},
"concat": [
{
"width": 1542, "height": 1239,
"title": {"text": "(a) Sensitivity"},
"layer": [
{"data": {"name": "a"},
"mark": {"type": "bar", "stroke": "black", "strokeWidth": 2},
"encoding": {
"x": {"field": "g", "type": "ordinal", "title": "采样算法序号", "scale": {"paddingInner": 0.19, "paddingOuter": 0.08},
 "axis": {"labelAngle": 0, "labelPadding": 24, "titlePadding": 38, "tickBand": "extent", "encode": {"ticks": {"update": {"y2": {"value": -14}}}}}},
"y": {"field": "v", "type": "quantitative", "stack": "zero", "title": "累计误差值/%", "scale": {"domain": [0, 120], "nice": false},
 "axis": {"values": [0,10,20,30,40,50,60,70,80,90,100,110,120], "labelExpr": "datum.value % 20 === 0 ? datum.label : ''", "labelPadding": 25, "titleX": -166, "encode": {"ticks": {"update": {"x2": {"signal": "datum.value % 20 === 0 ? 22 : 12"}}}}}},
"color": {"field": "s", "type": "nominal",
 "scale": {"domain": [20,19,18,17,16,15,14,13,12,11,10,9,8,7,6,5,4,3,2,1], "range": ["#7f7f7f","#c4c4c4","#a6a6a6","#f0167f","#7218d8","#f07c0a","#0e0e8c","#0a7a7a","#0a100a","#7c0606","#3a143a","#080858","#7a7a0a","#fafa14","#c02cc6","#10f8f8","#0a0af6","#10f010","#fa0a0a","#000000"]},
 "legend": {"orient": "none", "legendX": -233, "legendY": -361, "direction": "horizontal", "columns": 7, "title": null, "labelExpr": "'转子数据 ' + datum.label", "symbolType": "M-2,-1H2V1H-2Z", "symbolSize": 4900, "symbolStrokeColor": "black", "symbolStrokeWidth": 4, "symbolOpacity": 1, "labelFontSize": 65, "labelColor": "black", "labelOffset": 56, "columnPadding": 27, "rowPadding": 19, "gridAlign": "all", "labelLimit": 800}},
"order": {"field": "s", "type": "quantitative", "sort": "ascending"}
}},
{"data": {"name": "ta"},
"mark": {"type": "text", "baseline": "alphabetic", "dy": -20, "fontSize": 61, "color": "black"},
"encoding": {
"x": {"field": "g", "type": "ordinal", "title": "采样算法序号"},
"y": {"field": "t", "type": "quantitative", "title": "累计误差值/%", "scale": {"domain": [0, 120], "nice": false}},
"text": {"field": "lab", "type": "nominal"}
}}
]
},
{
"width": 1506, "height": 1239,
"title": {"text": "(b) G-mean"},
"layer": [
{"data": {"name": "b"},
"mark": {"type": "bar", "stroke": "black", "strokeWidth": 2},
"encoding": {
"x": {"field": "g", "type": "ordinal", "title": "采样算法序号", "scale": {"paddingInner": 0.19, "paddingOuter": 0.08},
 "axis": {"labelAngle": 0, "labelPadding": 24, "titlePadding": 38, "tickBand": "extent", "encode": {"ticks": {"update": {"y2": {"value": -14}}}}}},
"y": {"field": "v", "type": "quantitative", "stack": "zero", "title": "累计误差值/%", "scale": {"domain": [0, 70], "range": [1239, 92], "nice": false},
 "axis": {"values": [0,5,10,15,20,25,30,35,40,45,50,55,60,65,70], "labelExpr": "datum.value % 10 === 0 ? datum.label : ''", "labelPadding": 25, "titleX": -166, "titleY": 620, "encode": {"ticks": {"update": {"x2": {"signal": "datum.value % 10 === 0 ? 22 : 12"}}}}}},
"color": {"field": "s", "type": "nominal",
 "scale": {"domain": [20,19,18,17,16,15,14,13,12,11,10,9,8,7,6,5,4,3,2,1], "range": ["#7f7f7f","#c4c4c4","#a6a6a6","#f0167f","#7218d8","#f07c0a","#0e0e8c","#0a7a7a","#0a100a","#7c0606","#3a143a","#080858","#7a7a0a","#fafa14","#c02cc6","#10f8f8","#0a0af6","#10f010","#fa0a0a","#000000"]},
 "legend": {"orient": "none", "legendX": -233, "legendY": -361, "direction": "horizontal", "columns": 7, "title": null, "labelExpr": "'转子数据 ' + datum.label", "symbolType": "M-2,-1H2V1H-2Z", "symbolSize": 4900, "symbolStrokeColor": "black", "symbolStrokeWidth": 4, "symbolOpacity": 1, "labelFontSize": 65, "labelColor": "black", "labelOffset": 56, "columnPadding": 27, "rowPadding": 19, "gridAlign": "all", "labelLimit": 800}},
"order": {"field": "s", "type": "quantitative", "sort": "ascending"}
}},
{"data": {"name": "tb"},
"mark": {"type": "text", "baseline": "alphabetic", "dy": -20, "fontSize": 61, "color": "black"},
"encoding": {
"x": {"field": "g", "type": "ordinal", "title": "采样算法序号"},
"y": {"field": "t", "type": "quantitative", "title": "累计误差值/%", "scale": {"domain": [0, 70], "range": [1239, 92], "nice": false}},
"text": {"field": "lab", "type": "nominal"}
}}
]
},
{
"width": 1542, "height": 1239,
"title": {"text": "(c) F-measure"},
"layer": [
{"data": {"name": "c"},
"mark": {"type": "bar", "stroke": "black", "strokeWidth": 2},
"encoding": {
"x": {"field": "g", "type": "ordinal", "title": "采样算法序号", "scale": {"paddingInner": 0.19, "paddingOuter": 0.08},
 "axis": {"labelAngle": 0, "labelPadding": 24, "titlePadding": 38, "tickBand": "extent", "encode": {"ticks": {"update": {"y2": {"value": -14}}}}}},
"y": {"field": "v", "type": "quantitative", "stack": "zero", "title": "累计误差值/%", "scale": {"domain": [0, 90], "nice": false},
 "axis": {"values": [0,5,10,15,20,25,30,35,40,45,50,55,60,65,70,75,80,85,90], "labelExpr": "datum.value % 10 === 0 ? datum.label : ''", "labelPadding": 25, "titleX": -166, "encode": {"ticks": {"update": {"x2": {"signal": "datum.value % 10 === 0 ? 22 : 12"}}}}}},
"color": {"field": "s", "type": "nominal",
 "scale": {"domain": [20,19,18,17,16,15,14,13,12,11,10,9,8,7,6,5,4,3,2,1], "range": ["#7f7f7f","#c4c4c4","#a6a6a6","#f0167f","#7218d8","#f07c0a","#0e0e8c","#0a7a7a","#0a100a","#7c0606","#3a143a","#080858","#7a7a0a","#fafa14","#c02cc6","#10f8f8","#0a0af6","#10f010","#fa0a0a","#000000"]},
 "legend": {"orient": "none", "legendX": -233, "legendY": -361, "direction": "horizontal", "columns": 7, "title": null, "labelExpr": "'转子数据 ' + datum.label", "symbolType": "M-2,-1H2V1H-2Z", "symbolSize": 4900, "symbolStrokeColor": "black", "symbolStrokeWidth": 4, "symbolOpacity": 1, "labelFontSize": 65, "labelColor": "black", "labelOffset": 56, "columnPadding": 27, "rowPadding": 19, "gridAlign": "all", "labelLimit": 800}},
"order": {"field": "s", "type": "quantitative", "sort": "ascending"}
}},
{"data": {"name": "tc"},
"mark": {"type": "text", "baseline": "alphabetic", "dy": -20, "fontSize": 61, "color": "black"},
"encoding": {
"x": {"field": "g", "type": "ordinal", "title": "采样算法序号"},
"y": {"field": "t", "type": "quantitative", "title": "累计误差值/%", "scale": {"domain": [0, 90], "nice": false}},
"text": {"field": "lab", "type": "nominal"}
}}
]
},
{
"width": 1506, "height": 1239,
"title": {"text": "(d) AUC"},
"layer": [
{"data": {"name": "d"},
"mark": {"type": "bar", "stroke": "black", "strokeWidth": 2},
"encoding": {
"x": {"field": "g", "type": "ordinal", "title": "采样算法序号", "scale": {"paddingInner": 0.19, "paddingOuter": 0.08},
 "axis": {"labelAngle": 0, "labelPadding": 24, "titlePadding": 38, "tickBand": "extent", "encode": {"ticks": {"update": {"y2": {"value": -14}}}}}},
"y": {"field": "v", "type": "quantitative", "stack": "zero", "title": "累计误差值/%", "scale": {"domain": [0, 70], "nice": false},
 "axis": {"values": [0,5,10,15,20,25,30,35,40,45,50,55,60,65,70], "labelExpr": "datum.value % 10 === 0 ? datum.label : ''", "labelPadding": 25, "titleX": -166, "encode": {"ticks": {"update": {"x2": {"signal": "datum.value % 10 === 0 ? 22 : 12"}}}}}},
"color": {"field": "s", "type": "nominal",
 "scale": {"domain": [20,19,18,17,16,15,14,13,12,11,10,9,8,7,6,5,4,3,2,1], "range": ["#7f7f7f","#c4c4c4","#a6a6a6","#f0167f","#7218d8","#f07c0a","#0e0e8c","#0a7a7a","#0a100a","#7c0606","#3a143a","#080858","#7a7a0a","#fafa14","#c02cc6","#10f8f8","#0a0af6","#10f010","#fa0a0a","#000000"]},
 "legend": {"orient": "none", "legendX": -233, "legendY": -361, "direction": "horizontal", "columns": 7, "title": null, "labelExpr": "'转子数据 ' + datum.label", "symbolType": "M-2,-1H2V1H-2Z", "symbolSize": 4900, "symbolStrokeColor": "black", "symbolStrokeWidth": 4, "symbolOpacity": 1, "labelFontSize": 65, "labelColor": "black", "labelOffset": 56, "columnPadding": 27, "rowPadding": 19, "gridAlign": "all", "labelLimit": 800}},
"order": {"field": "s", "type": "quantitative", "sort": "ascending"}
}},
{"data": {"name": "td"},
"mark": {"type": "text", "baseline": "alphabetic", "dy": -20, "fontSize": 61, "color": "black"},
"encoding": {
"x": {"field": "g", "type": "ordinal", "title": "采样算法序号"},
"y": {"field": "t", "type": "quantitative", "title": "累计误差值/%", "scale": {"domain": [0, 70], "nice": false}},
"text": {"field": "lab", "type": "nominal"}
}}
]
}
],
"config": {
"font": "Liberation Serif, Noto Sans CJK SC",
"view": {"stroke": null},
"axis": {"domainColor": "black", "domainWidth": 6, "domainCap": "square", "tickColor": "black", "tickWidth": 5, "tickSize": 0, "labelFontSize": 64, "labelColor": "black", "titleFontSize": 67, "titleFontWeight": "normal", "titleColor": "black", "grid": false},
"title": {"fontSize": 67, "fontWeight": "normal", "color": "black", "orient": "bottom", "offset": 43, "frame": "group", "anchor": "middle"}
}
}
